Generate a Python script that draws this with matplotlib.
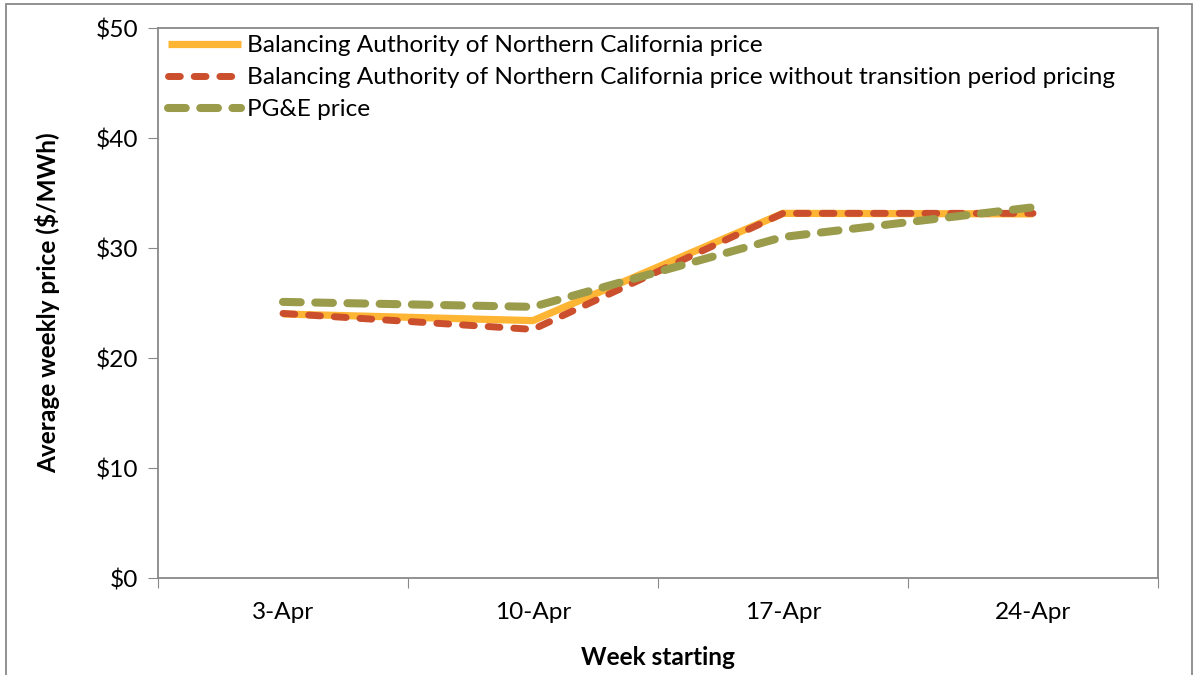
import matplotlib.pyplot as plt
from matplotlib.patches import Rectangle
from matplotlib.ticker import FuncFormatter

# Data
weeks = ['3-Apr', '10-Apr', '17-Apr', '24-Apr']
banc_price = [24.0, 23.4, 33.15, 33.1]
banc_no_transition = [24.05, 22.6, 33.15, 33.15]
pge_price = [25.1, 24.65, 31.0, 33.7]

labels = ['Balancing Authority of Northern California price',
          'Balancing Authority of Northern California price without transition period pricing',
          'PG&E price']

plt.rcParams['font.family'] = ['Lato', 'DejaVu Sans']
fs = 17.6

fig = plt.figure(figsize=(11.98, 6.75), dpi=100)
ax = fig.add_axes([158 / 1198, 1 - 578 / 675, 1000 / 1198, 550 / 675])

x = range(len(weeks))
ax.plot(x, banc_price, color='#FFB534', lw=5.2, solid_capstyle='butt',
        solid_joinstyle='miter', label=labels[0])
ax.plot(x, banc_no_transition, color='#CB4F2C', lw=5.0, dashes=(1.7, 2.0),
        dash_capstyle='round', label=labels[1])
ax.plot(x, pge_price, color='#9A9B4B', lw=5.8, dashes=(2.2, 1.8),
        dash_capstyle='round', label=labels[2])

ax.set_xlim(-0.5, 3.5)
ax.set_ylim(0, 50)
ax.set_yticks(range(0, 51, 10))
ax.yaxis.set_major_formatter(FuncFormatter(lambda v, p: f'${v:.0f}'))
ax.set_xticks([-0.5, 0.5, 1.5, 2.5, 3.5])
ax.set_xticklabels([])
ax.set_xticks(list(x), minor=True)
ax.set_xticklabels(weeks, minor=True)
ax.tick_params(axis='x', which='minor', length=0, pad=17, labelsize=fs)
ax.tick_params(axis='x', which='major', length=7, color='#898989')
ax.tick_params(axis='y', length=7, color='#898989', labelsize=fs, pad=7)

for s in ax.spines.values():
    s.set_color('#898989')
    s.set_linewidth(1.3)

ax.set_ylabel('Average weekly price ($/MWh)', fontsize=fs, fontweight='bold', labelpad=26)
ax.set_xlabel('Week starting', fontsize=fs, fontweight='bold', labelpad=17)

ax.legend(loc='upper left', frameon=False, fontsize=fs, handlelength=3.0,
          handletextpad=0.25, labelspacing=0.45, borderaxespad=0.0,
          bbox_to_anchor=(0.0, 1.005))

# outer chart border
fig.patches.append(Rectangle((6 / 1198, -0.01), 1186 / 1198, 1 - 4 / 675 + 0.01,
                             transform=fig.transFigure, fill=False,
                             edgecolor='#898989', lw=1.3))

fig.savefig('out.png', dpi=100)
